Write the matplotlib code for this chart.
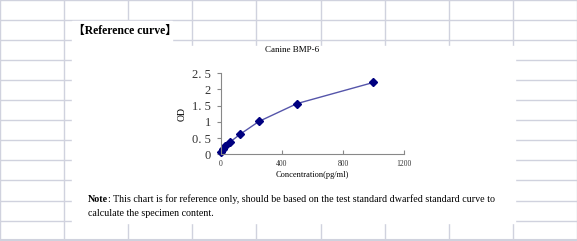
import matplotlib
matplotlib.use('Agg')
from matplotlib import pyplot as plt
from matplotlib.patches import Rectangle
import numpy as np

# standard curve readings
conc = [0, 15.6, 31.25, 62.5, 125, 250, 500, 1000]
od = [0.06, 0.16, 0.25, 0.38, 0.61, 1.01, 1.56, 2.21]

x_ticks = [0, 400, 800, 1200]
y_ticks = [0, 0.5, 1, 1.5, 2, 2.5]
y_tick_labels = ['0', '0. 5', '1', '1. 5', '2', '2. 5']

title = 'Canine BMP-6'
x_label = 'Concentration(pg/ml)'
y_label = 'OD'
header = '【Reference curve】'
note_1 = ': This chart is for reference only, should be based on the test standard dwarfed standard curve to'
note_2 = 'calculate the specimen content.'

W, H = 577, 241
fig = plt.figure(figsize=(W / 100, H / 100), dpi=100)

# spreadsheet background, in pixel coords
bg = fig.add_axes([0, 0, 1, 1])
bg.set_xlim(0, W)
bg.set_ylim(H, 0)
bg.axis('off')
col_w = 64.1
row_h = 20.05
grid_col = '#d0d2de'
for cx in np.arange(0, W + 1, col_w):
    bg.axvline(cx, color=grid_col, lw=1)
for ry in np.arange(0, H + 1, row_h):
    bg.axhline(ry, color=grid_col, lw=1)
bg.axhline(H - 1, color=grid_col, lw=1.5)

# white areas pasted over the grid
bg.add_patch(Rectangle((72, 21), 100, 202, color='white', zorder=3))
bg.add_patch(Rectangle((172, 46), 343, 177, color='white', zorder=3))

fig.text(73 / W, 1 - 31 / H, header, fontsize=8.5, fontweight='bold',
         family=['Liberation Serif', 'Noto Sans CJK SC'], va='center', ha='left')

note_head = fig.text(88 / W, 1 - 199 / H, 'Note', fontsize=7.2, fontweight='bold',
                     family='Liberation Serif', va='center', ha='left')
fig.add_artist(matplotlib.text.Annotation(
    note_1, xy=(1, 0.5), xycoords=note_head, fontsize=7.2,
    family='Liberation Serif', va='center', ha='left'))
fig.text(88 / W, 1 - 214 / H, note_2, fontsize=7.2,
         family='Liberation Serif', va='center', ha='left')

fig.text(292 / W, 1 - 50 / H, title, fontsize=6.5, family='Liberation Serif',
         va='center', ha='center')

# the chart
ax = fig.add_axes([220.7 / W, 1 - 154.3 / H, (404 - 220.7) / W, (154.3 - 73) / H])
ax.patch.set_alpha(0)
ax.plot(conc, od, color='#5555aa', lw=1, marker='D', markersize=4,
        markerfacecolor='#000080', markeredgecolor='#000080', clip_on=False)
ax.set_xlim(0, 1200)
ax.set_ylim(0, 2.5)
ax.set_xticks(x_ticks)
ax.set_yticks(y_ticks)
ax.set_yticklabels(y_tick_labels)
for s in ['top', 'right']:
    ax.spines[s].set_visible(False)
for s in ['left', 'bottom']:
    ax.spines[s].set_color('#888888')
    ax.spines[s].set_linewidth(0.8)
ax.tick_params(axis='x', direction='in', length=3, color='#888888',
               labelsize=5.5, pad=4)
ax.tick_params(axis='y', direction='out', length=3, color='#888888',
               labelsize=9, pad=4)
for lab in ax.get_xticklabels() + ax.get_yticklabels():
    lab.set_family('Liberation Serif')
    lab.set_color('#333333')
ax.set_xlabel(x_label, fontsize=6, family='Liberation Serif', labelpad=2)
ax.set_ylabel(y_label, fontsize=7, family='Liberation Serif', labelpad=4)

fig.savefig('out.png', dpi=100)
